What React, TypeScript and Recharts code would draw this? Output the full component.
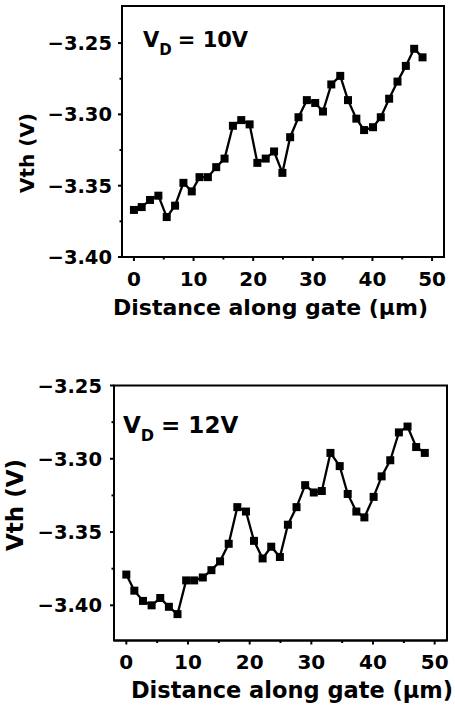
import React from 'react';
import { LineChart, Line, XAxis, YAxis, ReferenceArea } from 'recharts';

// Distance along gate (µm) of each measured point
const positions = [
  0, 1.3, 2.7, 4.1, 5.5, 6.9, 8.3, 9.7, 11.0, 12.4, 13.8, 15.2, 16.6, 18.0, 19.4, 20.7, 22.1, 23.5,
  24.9, 26.2, 27.6, 29.0, 30.4, 31.7, 33.1, 34.6, 35.9, 37.3, 38.6, 40.1, 41.4, 42.8, 44.2, 45.6, 47.0, 48.4,
];

// Vth (V) at VD = 10 V
const vth10V = [
  -3.367, -3.365, -3.36, -3.357, -3.372, -3.364, -3.348, -3.354, -3.344, -3.344, -3.337, -3.331,
  -3.308, -3.304, -3.307, -3.334, -3.331, -3.326, -3.341, -3.316, -3.302, -3.29, -3.292, -3.298,
  -3.279, -3.273, -3.29, -3.303, -3.311, -3.309, -3.302, -3.289, -3.277, -3.266, -3.254, -3.26,
];

// Vth (V) at VD = 12 V
const vth12V = [
  -3.379, -3.39, -3.397, -3.4, -3.395, -3.401, -3.406, -3.383, -3.383, -3.381, -3.376, -3.37,
  -3.358, -3.333, -3.336, -3.356, -3.368, -3.36, -3.367, -3.345, -3.333, -3.318, -3.323, -3.322,
  -3.296, -3.305, -3.324, -3.336, -3.34, -3.326, -3.312, -3.301, -3.282, -3.278, -3.292, -3.296,
];

const xTicks = [0, 5, 10, 15, 20, 25, 30, 35, 40, 45, 50];
const xMajorLabels = ['0', '10', '20', '30', '40', '50'];
const yTicks = [-3.4, -3.375, -3.35, -3.325, -3.3, -3.275, -3.25];

const X_DOMAIN: [number, number] = [-2, 52];
const Y_DOMAIN_10: [number, number] = [-3.4, -3.224];
const Y_DOMAIN_12: [number, number] = [-3.424, -3.25];

const FONT = '"DejaVu Sans", "Liberation Sans", Arial, sans-serif';

const data10 = positions.map((d, i) => ({ d, v: vth10V[i] }));
const data12 = positions.map((d, i) => ({ d, v: vth12V[i] }));

const isMajorX = (v: number) => Math.round(v) % 10 === 0;
const isMajorY = (v: number) => Math.round(Math.abs(v) * 1000) % 50 === 0;
const fmtY = (v: number) => '\u2212' + Math.abs(v).toFixed(2);

const XTick = (props: any) => {
  const { x, y, payload } = props;
  const major = isMajorX(payload.value);
  return (
    <g>
      <line x1={x} y1={y} x2={x} y2={y + (major ? 4 : 2.5)} stroke="#000" strokeWidth={2} />
      {major && xMajorLabels.includes(String(payload.value)) ? (
        <text x={x} y={y + 28.5} textAnchor="middle" fontFamily={FONT} fontWeight="bold" fontSize={20} fill="#000">
          {String(payload.value)}
        </text>
      ) : null}
    </g>
  );
};

const makeYTick = (gap: number) => (props: any) => {
  const { x, y, payload } = props;
  const major = isMajorY(payload.value);
  return (
    <g>
      <line x1={x - (major ? 4 : 2.5)} y1={y} x2={x} y2={y} stroke="#000" strokeWidth={2} />
      {major ? (
        <text x={x - gap} y={y} dy="0.36em" textAnchor="end" fontFamily={FONT} fontWeight="bold" fontSize={19.5} fill="#000">
          {fmtY(payload.value)}
        </text>
      ) : null}
    </g>
  );
};

const YTickTop = makeYTick(10);
const YTickBottom = makeYTick(12);

const SquareDot = (props: any) => {
  const { cx, cy, index } = props;
  if (cx == null || cy == null) return <g key={index} />;
  return <rect key={index} x={cx - 4} y={cy - 4} width={8} height={8} fill="#000" />;
};

const textStyle = { fontFamily: FONT, fontWeight: 'bold' as const, fill: '#000' };

export default function App() {
  return (
    <div style={{ position: 'absolute', left: 0, top: 0, width: 455, height: 706, background: '#fff', overflow: 'hidden' }}>
      <div style={{ position: 'absolute', left: 0, top: 0 }}>
        <LineChart width={455} height={330} data={data10} margin={{ top: 6, right: 11, bottom: 0, left: 0 }}>
          <XAxis
            dataKey="d"
            type="number"
            domain={X_DOMAIN}
            ticks={xTicks}
            allowDataOverflow
            height={73}
            tickSize={0}
            tickMargin={0}
            tickLine={false}
            axisLine={{ stroke: '#000', strokeWidth: 2 }}
            tick={<XTick />}
            interval={0}
          />
          <YAxis
            type="number"
            domain={Y_DOMAIN_10}
            ticks={yTicks}
            allowDataOverflow
            width={122}
            tickSize={0}
            tickMargin={0}
            tickLine={false}
            axisLine={{ stroke: '#000', strokeWidth: 2 }}
            tick={<YTickTop />}
            interval={0}
          />
          <ReferenceArea
            x1={X_DOMAIN[0]}
            x2={X_DOMAIN[1]}
            y1={Y_DOMAIN_10[0]}
            y2={Y_DOMAIN_10[1]}
            fill="none"
            fillOpacity={0}
            stroke="#000"
            strokeWidth={2}
            ifOverflow="visible"
          />
          <Line
            dataKey="v"
            type="linear"
            stroke="#000"
            strokeWidth={2.3}
            dot={SquareDot}
            activeDot={false}
            isAnimationActive={false}
          />
          <text x={143} y={47} fontSize={21} style={textStyle}>
            V<tspan dx={0} dy={8} fontSize={15}>D</tspan>
            <tspan dx={6} dy={-8}>= 10V</tspan>
          </text>
          <text
            x={27}
            y={153}
            fontSize={20}
            textAnchor="middle"
            dominantBaseline="central"
            transform="rotate(-90 27 153)"
            style={textStyle}
          >
            Vth (V)
          </text>
          <text x={270.5} y={315} fontSize={22} textAnchor="middle" style={textStyle}>
            Distance along gate (μm)
          </text>
        </LineChart>
      </div>
      <div style={{ position: 'absolute', left: 0, top: 360 }}>
        <LineChart width={455} height={346} data={data12} margin={{ top: 25.5, right: 8, bottom: 0, left: 0 }}>
          <XAxis
            dataKey="d"
            type="number"
            domain={X_DOMAIN}
            ticks={xTicks}
            allowDataOverflow
            height={65.5}
            tickSize={0}
            tickMargin={0}
            tickLine={false}
            axisLine={{ stroke: '#000', strokeWidth: 2 }}
            tick={<XTick />}
            interval={0}
          />
          <YAxis
            type="number"
            domain={Y_DOMAIN_12}
            ticks={yTicks}
            allowDataOverflow
            width={114}
            tickSize={0}
            tickMargin={0}
            tickLine={false}
            axisLine={{ stroke: '#000', strokeWidth: 2 }}
            tick={<YTickBottom />}
            interval={0}
          />
          <ReferenceArea
            x1={X_DOMAIN[0]}
            x2={X_DOMAIN[1]}
            y1={Y_DOMAIN_12[0]}
            y2={Y_DOMAIN_12[1]}
            fill="none"
            fillOpacity={0}
            stroke="#000"
            strokeWidth={2}
            ifOverflow="visible"
          />
          <Line
            dataKey="v"
            type="linear"
            stroke="#000"
            strokeWidth={2.3}
            dot={SquareDot}
            activeDot={false}
            isAnimationActive={false}
          />
          <text x={123} y={73} fontSize={23} style={textStyle}>
            V<tspan dx={0} dy={8} fontSize={16}>D</tspan>
            <tspan dx={7} dy={-8}>= 12V</tspan>
          </text>
          <text
            x={15}
            y={145}
            fontSize={23}
            textAnchor="middle"
            dominantBaseline="central"
            transform="rotate(-90 15 145)"
            style={textStyle}
          >
            Vth (V)
          </text>
          <text x={292} y={338} fontSize={22.5} textAnchor="middle" style={textStyle}>
            Distance along gate (μm)
          </text>
        </LineChart>
      </div>
    </div>
  );
}
